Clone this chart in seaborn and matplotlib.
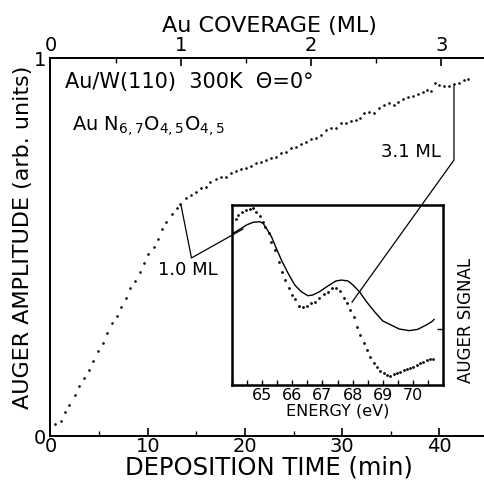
import numpy as np
import matplotlib
matplotlib.use("Agg")
import matplotlib.pyplot as plt
import seaborn as sns
from matplotlib.ticker import MultipleLocator, FixedLocator, NullFormatter

# ---------------- data ----------------
time_min = [0.51, 1.03, 1.54, 1.95, 2.47, 2.98, 3.40, 3.91, 4.42, 4.84,
            5.35, 5.86, 6.28, 6.79, 7.30, 7.72, 8.13, 8.74, 9.16, 9.57,
            10.08, 10.60, 11.01, 11.52, 11.93, 12.45, 12.96, 13.37, 13.89, 14.40,
            14.92, 15.43, 15.95, 16.36, 16.98, 17.49, 18.00, 18.52, 19.03, 19.55,
            20.06, 20.58, 21.09, 21.60, 22.12, 22.63, 23.15, 23.66, 24.18, 24.69,
            25.21, 25.72, 26.23, 26.75, 27.26, 27.78, 28.29, 28.81, 29.32, 29.84,
            30.35, 30.86, 31.38, 31.79, 32.20, 32.72, 33.23, 33.74, 34.26, 34.77,
            35.29, 35.70, 36.21, 36.73, 37.24, 37.76, 38.27, 38.68, 39.09, 39.51,
            39.92, 40.43, 40.95, 41.46, 41.98, 42.49, 42.90]
amplitude = [0.032, 0.040, 0.063, 0.082, 0.108, 0.132, 0.153, 0.175, 0.198, 0.225,
             0.246, 0.272, 0.299, 0.317, 0.341, 0.365, 0.392, 0.410, 0.434, 0.458,
             0.481, 0.500, 0.521, 0.548, 0.566, 0.587, 0.603, 0.614, 0.630, 0.638,
             0.646, 0.656, 0.659, 0.672, 0.680, 0.685, 0.685, 0.696, 0.701, 0.706,
             0.709, 0.714, 0.722, 0.725, 0.730, 0.735, 0.738, 0.749, 0.751, 0.762,
             0.765, 0.772, 0.778, 0.786, 0.788, 0.796, 0.810, 0.815, 0.815, 0.828,
             0.828, 0.833, 0.836, 0.841, 0.854, 0.857, 0.854, 0.868, 0.876, 0.881,
             0.876, 0.884, 0.892, 0.897, 0.899, 0.905, 0.910, 0.915, 0.913, 0.934,
             0.929, 0.926, 0.926, 0.931, 0.934, 0.942, 0.944]

# inset: 1.0 ML spectrum (solid)
energy_1ml = [64.04, 64.26, 64.48, 64.70, 64.92, 65.03, 65.14, 65.31, 65.47, 65.64,
              65.86, 66.08, 66.30, 66.52, 66.68, 66.90, 67.18, 67.45, 67.63, 67.85,
              68.01, 68.23, 68.46, 68.73, 69.00, 69.28, 69.55, 69.88, 70.16, 70.44,
              70.63, 70.71]
signal_1ml = [0.843, 0.865, 0.889, 0.904, 0.907, 0.898, 0.871, 0.824, 0.759, 0.694,
              0.621, 0.556, 0.518, 0.496, 0.500, 0.518, 0.550, 0.578, 0.583, 0.578,
              0.556, 0.518, 0.463, 0.407, 0.356, 0.333, 0.311, 0.302, 0.309, 0.333,
              0.352, 0.365]

# inset: 3.1 ML spectrum (dotted)
energy_31ml = [64.12, 64.21, 64.32, 64.45, 64.59, 64.70, 64.81, 64.92, 65.03, 65.11,
               65.22, 65.31, 65.42, 65.55, 65.66, 65.77, 65.88, 65.99, 66.10, 66.21,
               66.35, 66.50, 66.63, 66.76, 66.90, 67.05, 67.18, 67.31, 67.45, 67.58,
               67.71, 67.82, 67.93, 68.04, 68.15, 68.26, 68.37, 68.48, 68.59, 68.70,
               68.81, 68.92, 69.03, 69.14, 69.25, 69.36, 69.47, 69.58, 69.69, 69.80,
               69.91, 70.02, 70.13, 70.24, 70.35, 70.46, 70.57, 70.68]
signal_31ml = [0.921, 0.944, 0.963, 0.972, 0.976, 0.982, 0.963, 0.941, 0.907, 0.879,
               0.843, 0.796, 0.750, 0.685, 0.629, 0.583, 0.537, 0.500, 0.476, 0.439,
               0.432, 0.439, 0.454, 0.463, 0.482, 0.504, 0.518, 0.537, 0.541, 0.525,
               0.482, 0.454, 0.417, 0.376, 0.324, 0.278, 0.235, 0.194, 0.157, 0.121,
               0.098, 0.079, 0.065, 0.056, 0.052, 0.061, 0.068, 0.074, 0.083, 0.089,
               0.096, 0.102, 0.111, 0.121, 0.129, 0.139, 0.143, 0.146]

min_per_ml = 13.4
coverage_ticks = [0, 1, 2, 3]
time_ticks = [0, 10, 20, 30, 40]
energy_ticks = [65, 66, 67, 68, 69, 70]

# ---------------- style ----------------
sns.set_theme(style="ticks")
plt.rcParams["font.family"] = ["DejaVu Sans"]
plt.rcParams["mathtext.default"] = "regular"
for k in ["text.color", "axes.labelcolor", "xtick.color", "ytick.color", "axes.edgecolor"]:
    plt.rcParams[k] = "black"

W, H = 485, 482
fig = plt.figure(figsize=(W / 100, H / 100), dpi=100)
fig.patch.set_facecolor("white")

def box(l, t, r, b):
    return [l / W, (H - b) / H, (r - l) / W, (b - t) / H]

ax = fig.add_axes(box(50.5, 58, 488, 436))
ax.set_facecolor("white")
sns.scatterplot(x=time_min, y=amplitude, ax=ax, color="black", s=3.5,
                linewidth=0, legend=False)
ax.set_xlim(0, 45)
ax.set_ylim(0, 1)
for s in ["left", "bottom", "top"]:
    ax.spines[s].set_linewidth(1.4)
    ax.spines[s].set_color("black")
ax.spines["right"].set_visible(False)

ax.xaxis.set_major_locator(FixedLocator(time_ticks))
ax.xaxis.set_minor_locator(MultipleLocator(5))
ax.tick_params(axis="x", which="major", direction="in", length=6, width=1.2,
               labelsize=14, pad=1, color="black", top=False)
ax.tick_params(axis="x", which="minor", direction="in", length=3.5, width=1.0,
               color="black", top=False)
ax.set_yticks([0, 1])
ax.set_yticklabels(["0", "1"])
ax.tick_params(axis="y", length=0, labelsize=14, pad=3)
ax.set_xlabel("DEPOSITION TIME (min)", fontsize=17.5, labelpad=-1)
ax.set_ylabel("AUGER AMPLITUDE (arb. units)", fontsize=16)
ax.yaxis.set_label_coords(-0.04, 0.526)

sec = ax.secondary_xaxis("top", functions=(lambda t: np.asarray(t) / min_per_ml,
                                           lambda c: np.asarray(c) * min_per_ml))
sec.xaxis.set_major_locator(FixedLocator(coverage_ticks))
sec.xaxis.set_minor_locator(MultipleLocator(0.5))
sec.tick_params(axis="x", which="major", direction="in", length=6, width=1.2,
                labelsize=14, pad=2)
sec.tick_params(axis="x", which="minor", direction="in", length=3.5, width=1.0)
sec.spines["top"].set_visible(False)
sec.set_xlabel("Au COVERAGE (ML)", fontsize=16, labelpad=3)

ax.text(1.5, 0.937, "Au/W(110)  300K  \u0398=0\u00b0", fontsize=15, va="center", ha="left")
ax.text(2.2, 0.82, "Au N$_{6,7}$O$_{4,5}$O$_{4,5}$", fontsize=14, va="center", ha="left")
ax.text(14.1, 0.439, "1.0 ML", fontsize=13, va="center", ha="center")
ax.text(37.1, 0.751, "3.1 ML", fontsize=13, va="center", ha="center")

# ---------------- inset ----------------
axin = fig.add_axes(box(232, 205, 443, 385))
axin.set_facecolor("none")
sns.lineplot(x=energy_1ml, y=signal_1ml, ax=axin, color="black", linewidth=1.0,
             sort=False, legend=False)
sns.scatterplot(x=energy_31ml, y=signal_31ml, ax=axin, color="black", s=4,
                linewidth=0, legend=False)
axin.set_xlim(64, 71)
axin.set_ylim(0, 1)
for s in axin.spines.values():
    s.set_linewidth(1.8)
    s.set_color("black")
axin.xaxis.set_major_locator(FixedLocator(energy_ticks))
axin.xaxis.set_minor_locator(MultipleLocator(0.5))
axin.xaxis.set_minor_formatter(NullFormatter())
axin.tick_params(axis="x", which="both", direction="in", length=3.5, width=1.0,
                 labelsize=11.5, pad=2.5)
axin.set_xlabel("ENERGY (eV)", fontsize=11.5, labelpad=0)
axin.set_yticks([0.31])
axin.set_yticklabels([])
axin.tick_params(axis="y", direction="in", length=4, width=1.0, right=True, left=False)
axin.set_ylabel("AUGER SIGNAL", fontsize=12)
axin.yaxis.set_label_position("right")
axin.yaxis.set_label_coords(1.066, 0.36)

# ---------------- annotation leaders ----------------
def to_main(xy_inset):
    disp = axin.transData.transform(xy_inset)
    return ax.transData.inverted().transform(disp)

lead_10 = [(13.4, 0.614), (14.5, 0.471), tuple(to_main((64.37, 0.867)))]
lead_31 = [(41.5, 0.926), (41.5, 0.730), tuple(to_main((67.98, 0.46)))]
for lead in (lead_10, lead_31):
    xs, ys = zip(*lead)
    ax.plot(xs, ys, color="black", linewidth=0.9, clip_on=False, zorder=5)

fig.savefig("out.png", dpi=100, facecolor="white")
